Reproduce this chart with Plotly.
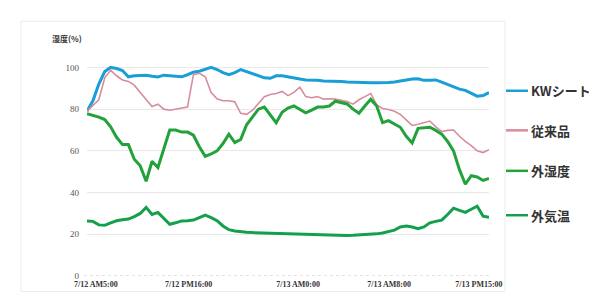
import plotly.graph_objects as go

# time index: half-hour steps from 7/12 5:00 to 7/13 15:00
steps = list(range(69))

kw_sheet = [79, 84, 92, 98, 100, 99.5, 98.5, 95.5, 96, 96, 96.3, 95.8, 95.4, 96.3, 96, 96,
            95.5, 96.5, 97.7, 98.2, 99, 100, 99, 97.5, 96.5, 97.5, 99, 98, 97, 96, 95, 94.8,
            96, 96, 95.4, 95, 94.5, 94, 94, 93.8, 93.5, 93.5, 93.3, 93.2, 93, 93, 92.8, 92.8,
            92.7, 92.6, 92.6, 92.8, 93, 93.5, 94, 94.5, 94.6, 93.8, 93.8, 94, 93, 91.8, 90.5,
            89.6, 89, 87.5, 86.2, 86.5, 88]

conventional = [79, 82, 84.5, 95, 98.6, 96, 94, 93.3, 91.5, 88, 84.5, 81.3, 82.4, 80, 79.5, 80,
                80.3, 81, 96.5, 97.2, 95.5, 88, 85, 84, 84, 83.5, 78, 77.5, 79.5, 82.5, 86, 87,
                87.5, 88.5, 86.5, 88, 90.5, 86, 85.5, 86, 84.8, 85, 84.8, 84.2, 83.6, 82.4, 84.5,
                86, 87.5, 82, 80.3, 79.8, 79, 77.5, 75, 72.2, 72.8, 73.5, 74.3, 71.5, 69.3, 69.8,
                70, 67, 64.5, 62.5, 60, 59.2, 60.6]

outdoor_humidity = [77.8, 77, 76.2, 75, 71.5, 66.5, 63, 63, 56, 52.8, 45.4, 55, 52, 61, 70, 70,
                    69, 69, 67.5, 62, 57.4, 58.5, 60, 63.5, 68, 64, 65.5, 72.5, 76.5, 80, 81, 77,
                    73.5, 78.5, 80.5, 81.5, 80, 78.2, 79.5, 81, 81, 81.5, 83.8, 83.3, 82.5, 80, 78,
                    81.5, 84.7, 81.5, 73.5, 74.5, 73, 71.3, 67, 63.8, 70.8, 71, 71.3, 69.8, 68,
                    64.5, 60, 51, 44, 48.1, 47.5, 45.8, 46.8]

outdoor_temp = [26.4, 26.2, 24.5, 24.3, 25.5, 26.5, 27, 27.3, 28.5, 30, 32.9, 29.5, 30.5, 27.5,
                24.8, 25.5, 26.4, 26.5, 26.8, 28, 29.2, 28, 26.5, 24, 22.2, 21.6, 21.2, 21, 20.8,
                20.7, 20.5, 20.5, 20.4, 20.4, 20.3, 20.2, 20.1, 20, 19.9, 19.8, 19.7, 19.6, 19.5,
                19.4, 19.4, 19.5, 19.6, 19.7, 19.9, 20.2, 20.6, 21.3, 22, 23.5, 24, 23.5, 22.7,
                23.5, 25.5, 26.2, 26.8, 29.5, 32.5, 31.5, 30.5, 32, 33.5, 28.7, 28.2]

tick_positions = [1.5, 17.2, 35.7, 51.1, 66.3]
tick_labels = ["7/12 AM5:00", "7/12 PM16:00", "7/13 AM0:00", "7/13 AM8:00", "7/13 PM15:00"]

series_names = ["KWシート", "従来品", "外湿度", "外気温"]
series_colors = ["#1a9ed6", "#d98c9c", "#23a23c", "#13a04c"]
series_widths = [3, 1.6, 3, 3]
series_values = [kw_sheet, conventional, outdoor_humidity, outdoor_temp]

fig = go.Figure()
for name, vals, col, w in zip(series_names, series_values, series_colors, series_widths):
    fig.add_trace(go.Scatter(x=steps, y=vals, mode="lines", name=name,
                             line=dict(color=col, width=w), showlegend=False))

# plot geometry (px): left 79, right 481, top 49, bottom 276
L, R, T, B = 79, 481, 49, 276
W, H = 597, 293
def px_x(p):
    return (p - L) / (R - L)
def px_y(p):
    return (B - p) / (B - T)

# custom legend
legend_y = [84, 125, 167, 213]
for name, col, yy in zip(series_names, series_colors, legend_y):
    fig.add_shape(type="line", xref="paper", yref="paper",
                  x0=px_x(498), x1=px_x(520), y0=px_y(yy), y1=px_y(yy),
                  line=dict(color=col, width=2.5))
    fig.add_annotation(xref="paper", yref="paper", x=px_x(522), y=px_y(yy),
                       text=name, showarrow=False, xanchor="left", yanchor="middle",
                       borderpad=0,
                       font=dict(family="Noto Sans CJK JP", size=13, color="#333", weight="bold"))

# faint outer frame
fig.add_shape(type="rect", xref="paper", yref="paper",
              x0=px_x(13), x1=px_x(497), y0=px_y(292), y1=px_y(12),
              line=dict(color="#ececec", width=1), layer="below")

# dotted baseline at 0
fig.add_shape(type="line", xref="paper", yref="y", x0=px_x(76), x1=1.0, y0=0, y1=0,
              line=dict(color="#c8c8c8", width=1, dash="dot"), layer="below")

# y-axis title
fig.add_annotation(xref="paper", yref="paper", x=px_x(42), y=px_y(30),
                   text="湿度(%)", showarrow=False, xanchor="left", yanchor="middle",
                   font=dict(family="Noto Sans CJK JP", size=8, color="#333", weight="bold"))

fig.update_layout(
    width=W, height=H,
    margin=dict(l=L, r=W - R, t=T, b=H - B),
    paper_bgcolor="white", plot_bgcolor="white",
    xaxis=dict(range=[0, 68], tickmode="array", tickvals=tick_positions, ticktext=tick_labels,
               showgrid=False, zeroline=False, showline=False, ticks="",
               tickfont=dict(family="Liberation Serif", size=8, color="#333", weight="bold"),
               ticklabelstandoff=2),
    yaxis=dict(range=[0, 105], tickvals=[0, 20, 40, 60, 80, 100], showgrid=True,
               gridcolor="#e8e8e8", gridwidth=1, zeroline=False, showline=False, ticks="",
               tickfont=dict(family="Liberation Serif", size=9, color="#555"),
               ticklabelstandoff=7),
)

fig.write_html("out.html")
